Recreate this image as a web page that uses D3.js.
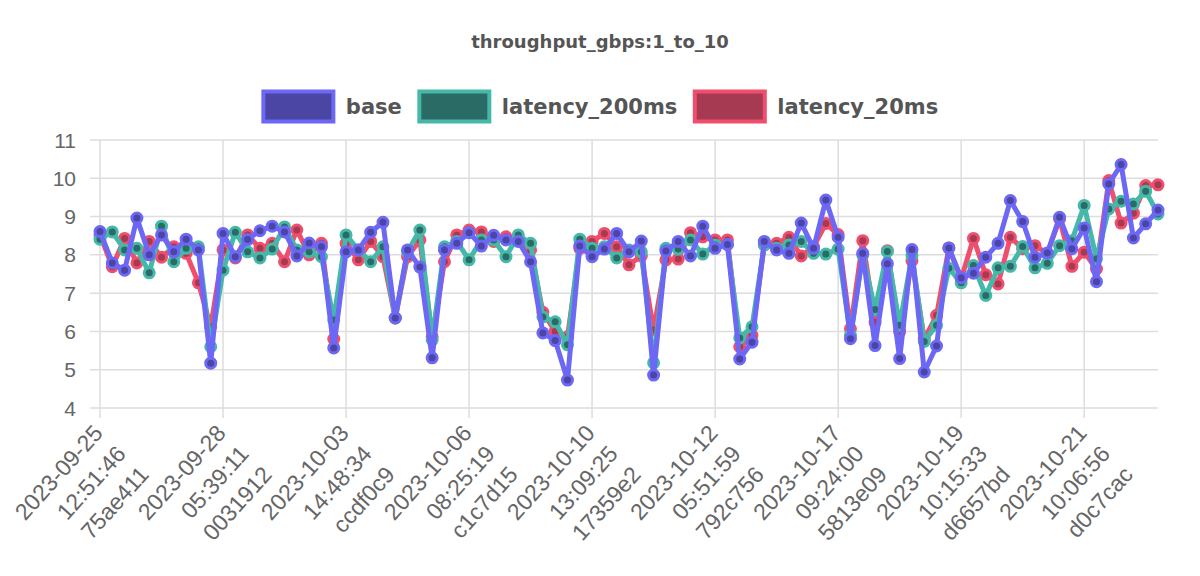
<!DOCTYPE html>
<html>
<head>
<meta charset="utf-8">
<script src="https://cdn.jsdelivr.net/npm/d3@7"></script>
<style>
  body { margin: 0; background: #fff; }
</style>
</head>
<body>
<div id="chart-container"></div>
<script>
// x labels shown every 10th run
const tickLabels = [
  ['2023-09-25', '12:51:46', '75ae411'],
  ['2023-09-28', '05:39:11', '0031912'],
  ['2023-10-03', '14:48:34', 'ccdf0c9'],
  ['2023-10-06', '08:25:19', 'c1c7d15'],
  ['2023-10-10', '13:09:25', '17359e2'],
  ['2023-10-12', '05:51:59', '792c756'],
  ['2023-10-17', '09:24:00', '5813e09'],
  ['2023-10-19', '10:15:33', 'd6657bd'],
  ['2023-10-21', '10:06:56', 'd0c7cac']
];
const tickEvery = 10;

const base = [
  8.61, 7.79, 7.6, 8.96, 8.0, 8.52, 8.08, 8.41, 8.13, 5.17,
  8.56, 7.95, 8.4, 8.63, 8.75, 8.6, 7.97, 8.31, 8.21, 5.57,
  8.08, 8.13, 8.59, 8.85, 6.35, 8.13, 7.68, 5.31, 8.13, 8.3,
  8.58, 8.23, 8.51, 8.39, 8.35, 7.82, 5.96, 5.76, 4.73, 8.23,
  7.95, 8.15, 8.56, 8.08, 8.36, 4.86, 8.1, 8.35, 7.97, 8.75,
  8.17, 8.27, 5.28, 5.72, 8.35, 8.13, 8.04, 8.83, 8.17, 9.43,
  8.46, 5.81, 8.04, 5.63, 7.77, 5.29, 8.14, 4.94, 5.62, 8.18,
  7.4, 7.52, 7.94, 8.3, 9.42, 8.87, 7.94, 8.05, 8.98, 8.16,
  8.7, 7.3, 9.85, 10.36, 8.44, 8.81, 9.17
];
const latency200 = [
  8.41, 8.6, 8.13, 8.17, 7.53, 8.75, 7.82, 8.17, 8.21, 5.6,
  7.6, 8.59, 8.08, 7.92, 8.15, 8.73, 8.13, 8.08, 7.95, 6.3,
  8.52, 8.13, 7.82, 8.21, 6.35, 8.08, 8.65, 5.78, 8.21, 8.35,
  7.87, 8.39, 8.39, 7.95, 8.52, 8.3, 6.38, 6.25, 5.65, 8.41,
  8.17, 8.21, 7.92, 8.13, 8.08, 5.18, 8.17, 8.15, 8.39, 8.02,
  8.26, 8.27, 5.83, 6.12, 8.26, 8.17, 8.26, 8.35, 8.04, 8.02,
  8.15, 5.9, 8.0, 6.57, 8.09, 6.16, 7.98, 5.74, 6.16, 7.65,
  7.27, 7.72, 6.94, 7.66, 7.7, 8.22, 7.66, 7.78, 8.24, 8.37,
  9.29, 7.9, 9.2, 9.4, 9.33, 9.66, 9.07
];
const latency20 = [
  8.52, 7.69, 8.43, 7.79, 8.35, 7.94, 8.21, 8.04, 7.27, 6.12,
  8.13, 7.92, 8.52, 8.17, 8.3, 7.82, 8.65, 8.0, 8.3, 5.8,
  8.3, 7.87, 8.35, 7.95, 6.35, 7.95, 8.39, 5.86, 7.82, 8.52,
  8.65, 8.6, 8.35, 8.47, 8.39, 8.13, 6.5, 6.0, 5.86, 8.17,
  8.35, 8.56, 8.21, 7.74, 7.97, 6.04, 7.87, 7.89, 8.58, 8.47,
  8.39, 8.39, 5.6, 5.9, 8.26, 8.3, 8.46, 7.97, 8.21, 8.82,
  8.53, 6.07, 8.37, 6.24, 8.11, 6.0, 7.85, 5.8, 6.42, 8.18,
  7.37, 8.43, 7.48, 7.24, 8.46, 8.16, 8.24, 8.03, 8.94, 7.7,
  8.07, 7.63, 9.94, 8.83, 9.09, 9.81, 9.83
];

const yTicks = [4, 5, 6, 7, 8, 9, 10, 11];

const series = [
  { name: 'base', values: base, stroke: '#6c67f5', fill: '#4b46a3' },
  { name: 'latency_200ms', values: latency200, stroke: '#45b8aa', fill: '#2b6b66' },
  { name: 'latency_20ms', values: latency20, stroke: '#ef4e6c', fill: '#a63a52' }
];

const width = 1200, height = 576;
const margin = { top: 140, right: 42, bottom: 168, left: 100 };
const fontFamily = "'Liberation Sans', Arial, sans-serif";

const svg = d3.select('#chart-container')
  .append('svg')
  .attr('width', width)
  .attr('height', height);

const x = d3.scaleLinear()
  .domain([0, base.length - 1])
  .range([margin.left, width - margin.right]);

const y = d3.scaleLinear()
  .domain([4, 11])
  .range([height - margin.bottom, margin.top]);

// Grid
svg.append('g')
  .selectAll('line')
  .data(yTicks)
  .enter()
  .append('line')
  .attr('x1', margin.left - 10)
  .attr('x2', width - margin.right)
  .attr('y1', d => y(d))
  .attr('y2', d => y(d))
  .style('stroke', '#dddddd')
  .style('stroke-width', 1.5);

const tickIdx = tickLabels.map((d, i) => i * tickEvery);
svg.append('g')
  .selectAll('line')
  .data(tickIdx)
  .enter()
  .append('line')
  .attr('x1', d => x(d))
  .attr('x2', d => x(d))
  .attr('y1', margin.top)
  .attr('y2', height - margin.bottom + 10)
  .style('stroke', '#dddddd')
  .style('stroke-width', 1.5);

// Y tick labels
svg.append('g')
  .selectAll('text')
  .data(yTicks)
  .enter()
  .append('text')
  .attr('x', margin.left - 24)
  .attr('y', d => y(d))
  .attr('text-anchor', 'end')
  .attr('dominant-baseline', 'central')
  .style('font-family', fontFamily)
  .style('font-size', '21px')
  .style('fill', '#666')
  .text(d => d);

// X tick labels, rotated
const xl = svg.append('g')
  .selectAll('text')
  .data(tickLabels)
  .enter()
  .append('text')
  .attr('transform', (d, i) => `translate(${x(i * tickEvery) + 4},${height - margin.bottom + 26}) rotate(-48)`)
  .attr('text-anchor', 'end')
  .style('font-family', fontFamily)
  .style('font-size', '23px')
  .style('fill', '#666');
xl.selectAll('tspan')
  .data(d => d)
  .enter()
  .append('tspan')
  .attr('x', 0)
  .attr('y', (d, i) => i * 31)
  .text(d => d);

// Lines and points, last series drawn first so base sits on top
const line = d3.line()
  .x((d, i) => x(i))
  .y(d => y(d));

series.slice().reverse().forEach(s => {
  const g = svg.append('g');
  g.append('path')
    .datum(s.values)
    .attr('d', line)
    .style('fill', 'none')
    .style('stroke', s.stroke)
    .style('stroke-width', 5)
    .style('stroke-linejoin', 'round');
  g.selectAll('circle')
    .data(s.values)
    .enter()
    .append('circle')
    .attr('cx', (d, i) => x(i))
    .attr('cy', d => y(d))
    .attr('r', 5)
    .style('fill', s.fill)
    .style('stroke', s.stroke)
    .style('stroke-width', 3);
});

// Title
svg.append('text')
  .attr('x', width / 2)
  .attr('y', 48)
  .attr('text-anchor', 'middle')
  .style('font-family', "'DejaVu Sans', sans-serif")
  .style('font-weight', 'bold')
  .style('font-size', '18px')
  .style('fill', '#555')
  .text('throughput_gbps:1_to_10');

// Legend, laid out from measured text widths and centred
const legend = svg.append('g');
const items = legend.selectAll('g')
  .data(series)
  .enter()
  .append('g');
items.append('rect')
  .attr('x', 1.5).attr('y', 1.5)
  .attr('width', 70).attr('height', 30)
  .style('fill', d => d.fill)
  .style('stroke', d => d.stroke)
  .style('stroke-width', 4);
items.append('text')
  .attr('x', 84)
  .attr('y', 17)
  .attr('dominant-baseline', 'central')
  .style('font-family', "'DejaVu Sans', sans-serif")
  .style('font-weight', 'bold')
  .style('font-size', '21px')
  .style('fill', '#555')
  .text(d => d.name);

let offset = 0;
const offsets = [];
items.each(function () {
  offsets.push(offset);
  const w = 84 + this.querySelector('text').getComputedTextLength();
  offset += w + 16;
});
const totalW = offset - 16;
items.attr('transform', (d, i) => `translate(${(width - totalW) / 2 + offsets[i]},90)`);
</script>
</body>
</html>
